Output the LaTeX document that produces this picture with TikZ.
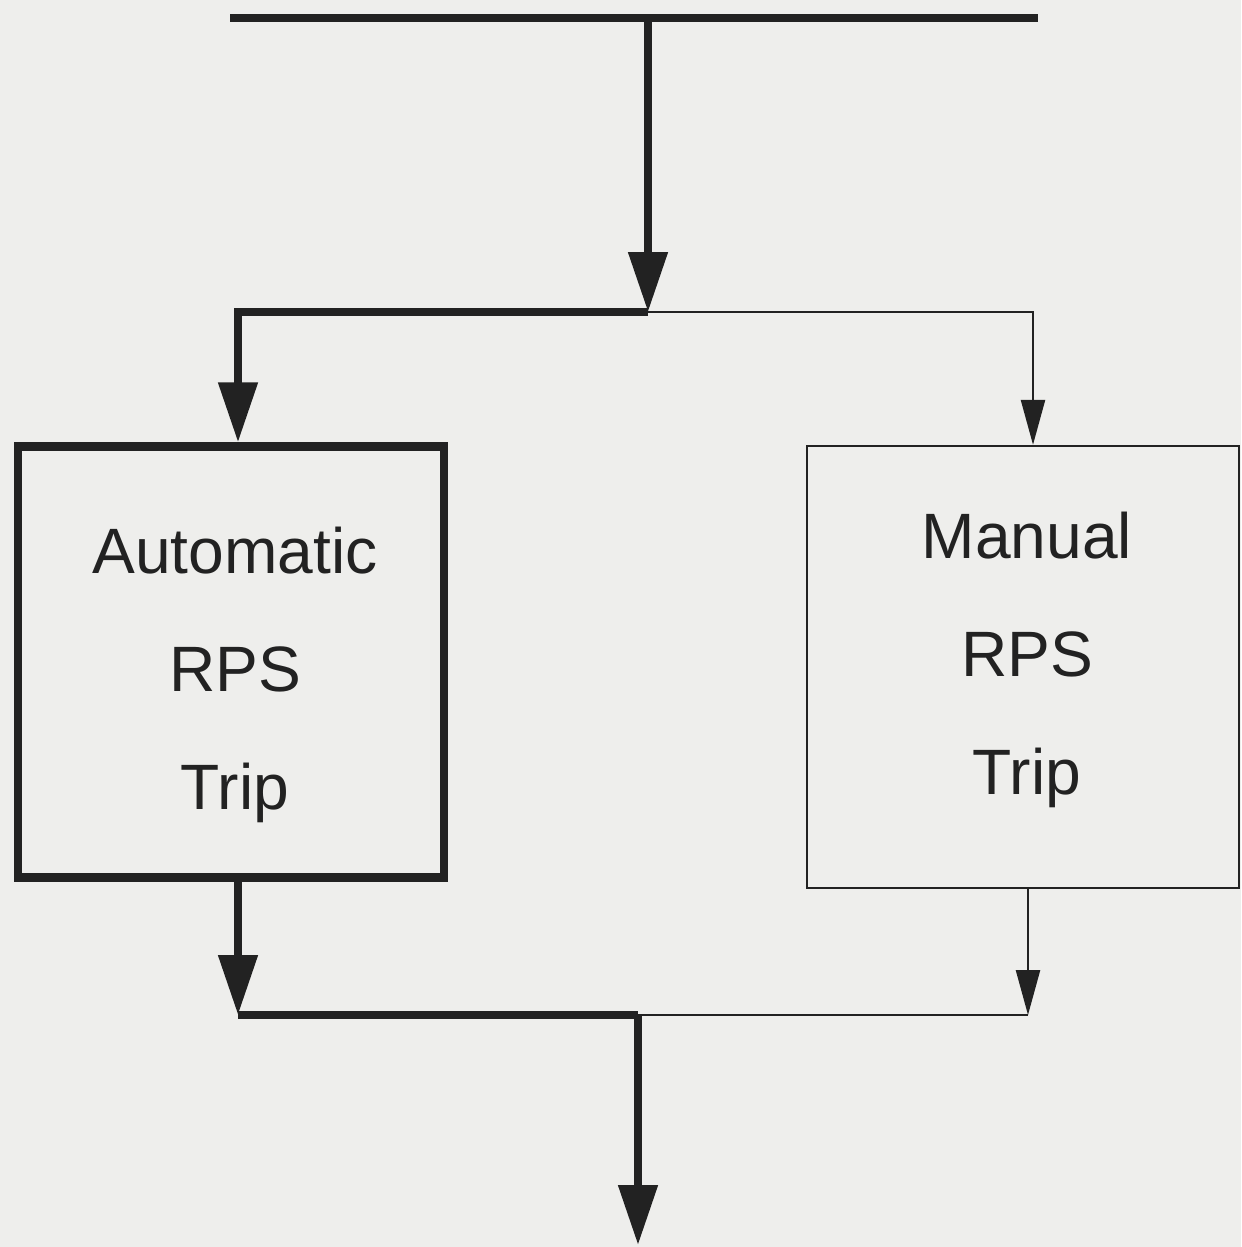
\documentclass[tikz,border=0pt]{standalone}
\usepackage{fontspec}
\setmainfont{Liberation Sans}
\usetikzlibrary{arrows.meta,positioning}
\definecolor{paper}{RGB}{238,238,236}
\definecolor{ink}{RGB}{34,34,34}
\tikzset{
  tripbox/.style={draw=ink,rectangle},
  triptext/.style={text=ink,align=center,font=\fontsize{36.5}{67}\selectfont},
  heavy/.style={draw=ink,line width=4.6pt},
  light/.style={draw=ink,line width=1.4pt},
  heavyarrow/.style={heavy,-{Triangle[length=12mm,width=7.6mm]}},
  lightarrow/.style={light,-{Triangle[length=9mm,width=4.8mm]}}
}
\begin{document}
\begin{tikzpicture}[x=0.02cm,y=-0.02cm]
\fill[paper] (0,0) rectangle (1241,1247);
\useasboundingbox (0,0) rectangle (1241,1247);

% trip bus and split
\coordinate (busL) at (230,18);
\coordinate (busR) at (1038,18);
\coordinate (busT) at (648,18);
\coordinate (split) at (648,312);

\node[tripbox,line width=4.8pt,minimum width=8.52cm,minimum height=8.62cm,
  label={[triptext,yshift=-0.26cm,xshift=0.08cm]center:Automatic\\RPS\\Trip}] (auto) at (231,662) {};
\node[tripbox,line width=1.4pt,minimum width=8.64cm,minimum height=8.84cm,
  label={[triptext,yshift=0.14cm,xshift=0.08cm]center:Manual\\RPS\\Trip}] (manual) at (1023,667) {};

% merge and output
\coordinate (merge) at (638,1015);
\coordinate (autoIn) at ([xshift=0.14cm]auto.south |- merge);
\coordinate (manualIn) at ([xshift=0.1cm]manual.south |- merge);
\coordinate (out) at (638,1245);

\draw[heavy] (busL) -- (busR);
\draw[heavyarrow] (busT) -- (split);
\draw[heavyarrow] (split) -| ([xshift=0.14cm]auto.north);
\draw[lightarrow] (split) -| ([xshift=0.2cm]manual.north);

\draw[heavyarrow] ([xshift=0.14cm]auto.south) -- (autoIn);
\draw[lightarrow] ([xshift=0.1cm]manual.south) -- (manualIn);
\draw[heavy] (autoIn) -- (merge);
\draw[light] (manualIn) -- (merge);
\draw[heavyarrow] (merge) -- (out);

\end{tikzpicture}
\end{document}
